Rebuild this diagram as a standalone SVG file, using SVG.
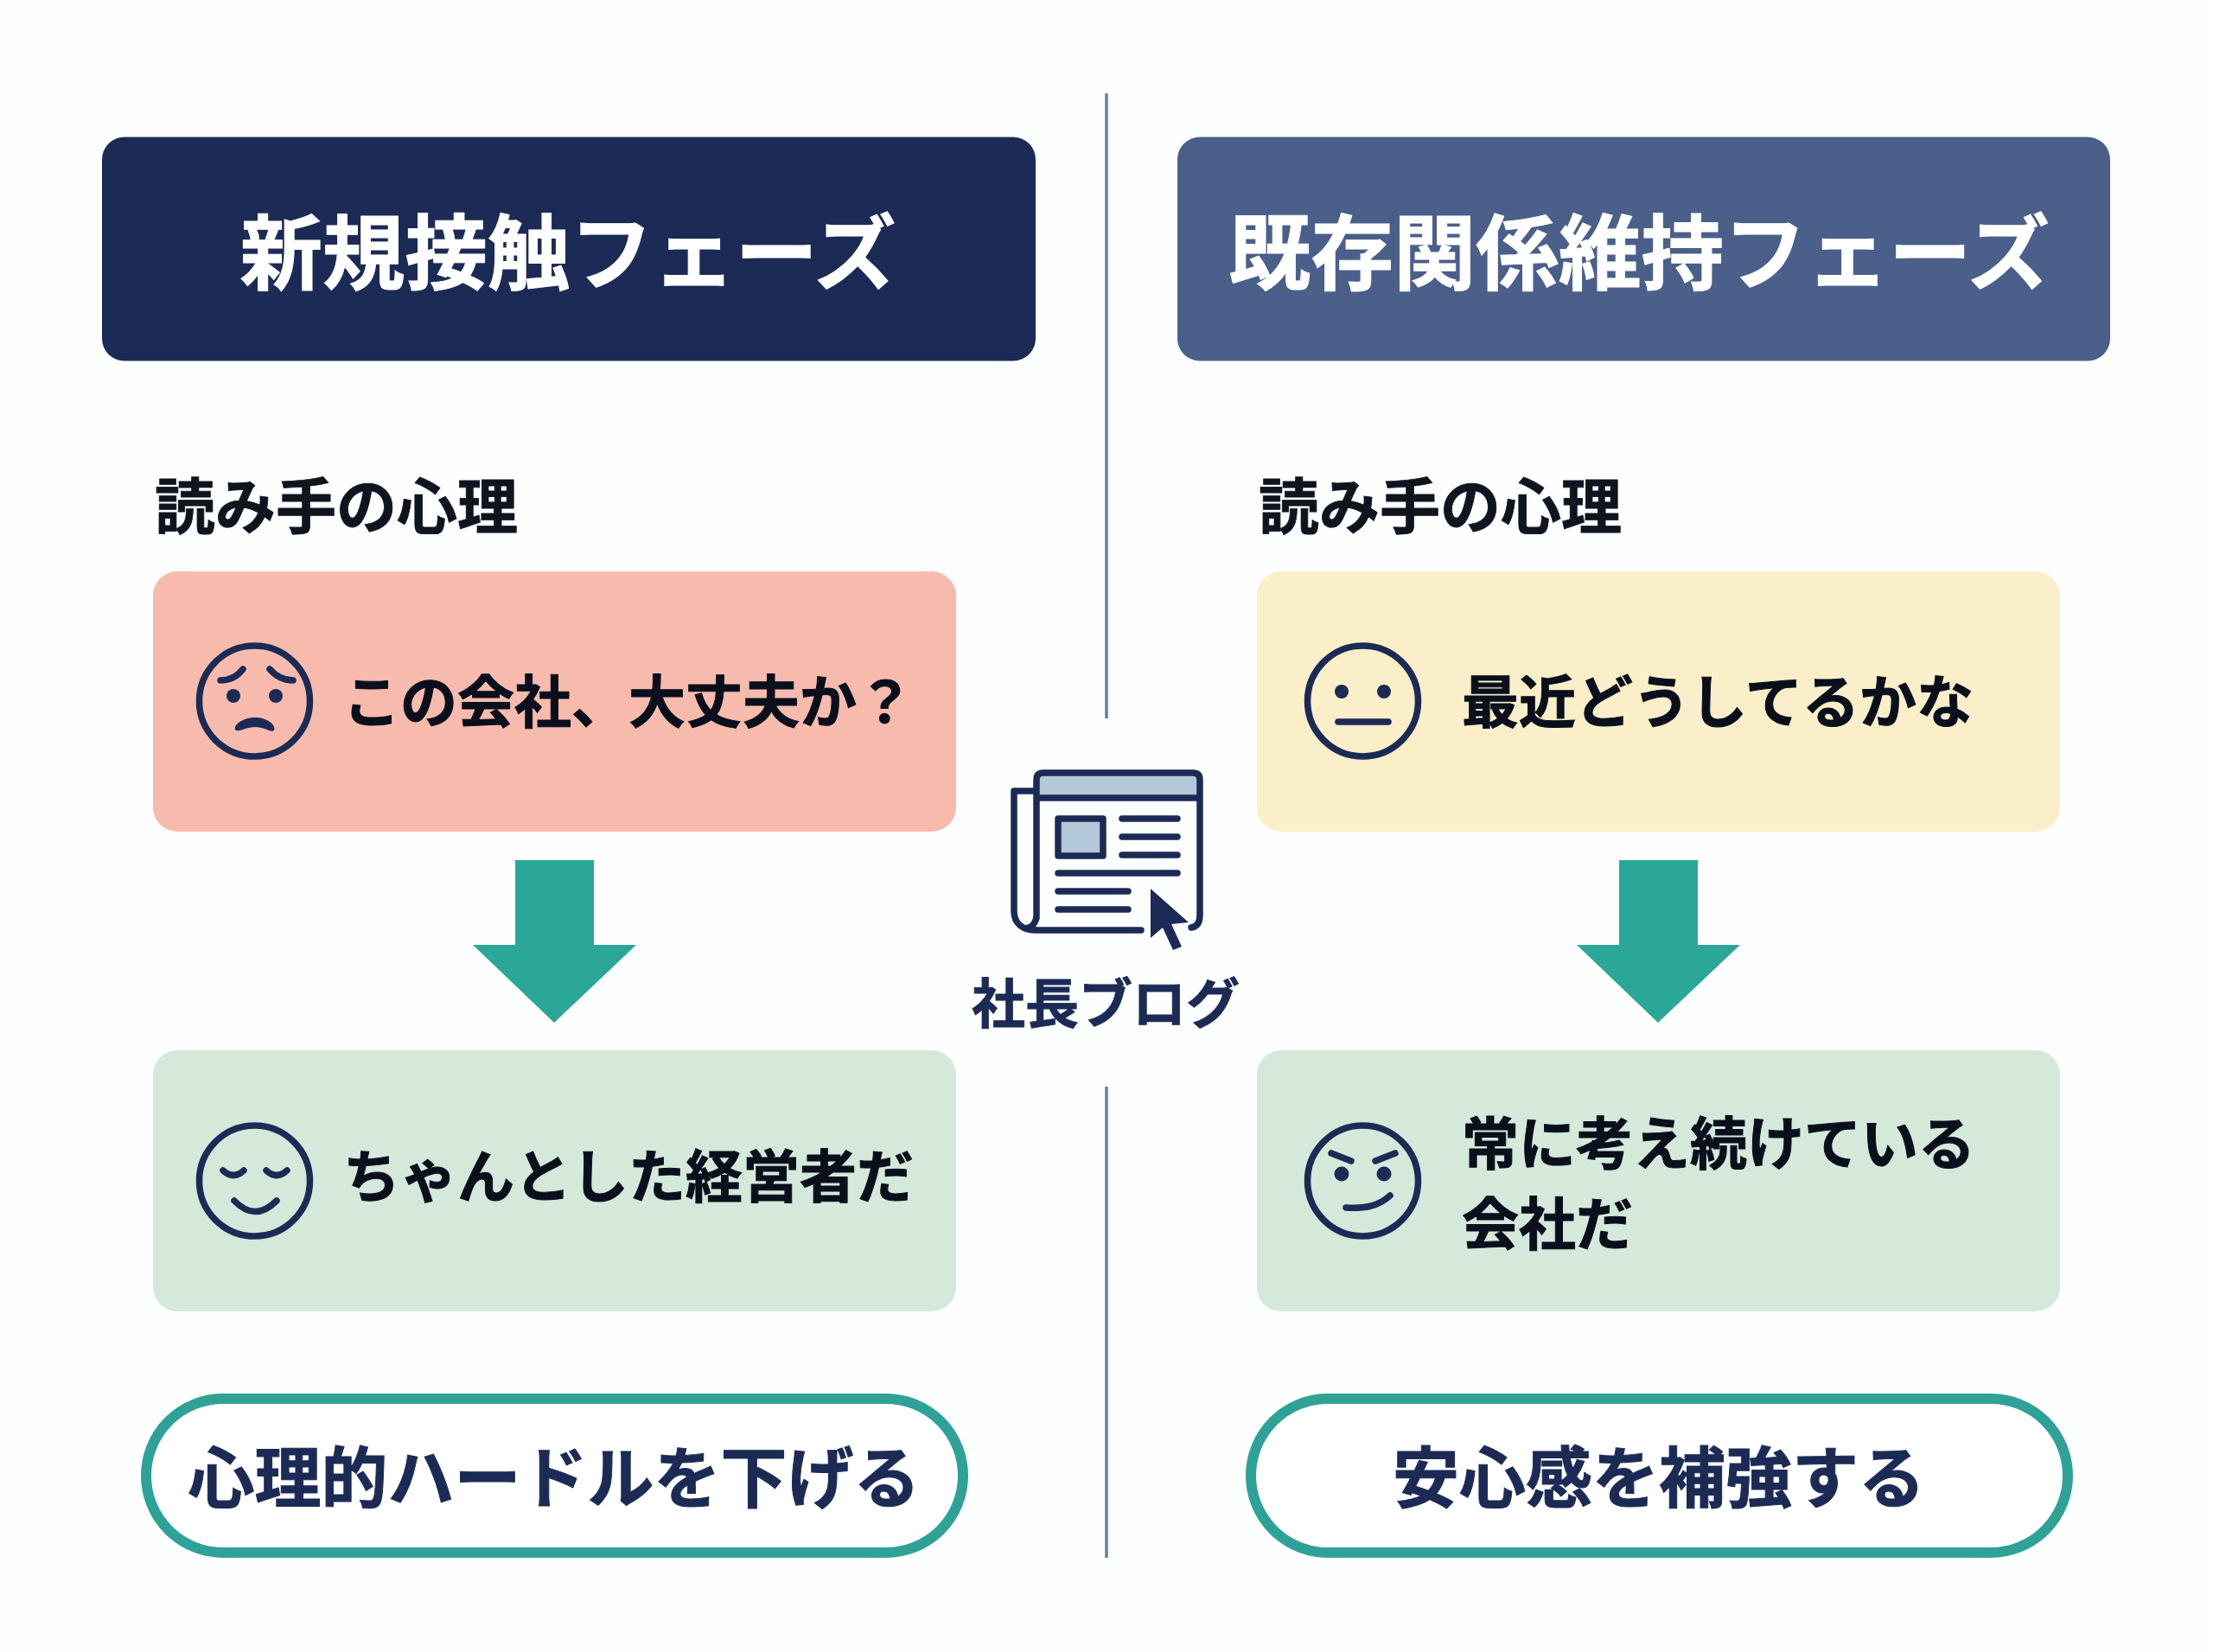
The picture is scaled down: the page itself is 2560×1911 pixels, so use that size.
<svg xmlns="http://www.w3.org/2000/svg" width="2560" height="1911" viewBox="0 0 2560 1911">
<style>
text{font-family:"Noto Sans CJK JP","Noto Sans",sans-serif;font-weight:700}
.hd{font-size:95.5px;fill:#fff;stroke:#fff;stroke-width:1;text-anchor:middle}
.lb{font-size:70px;fill:#10141f;stroke:#10141f;stroke-width:.8}
.tx{font-size:66px;fill:#0a0f1c;stroke:#0a0f1c;stroke-width:1}
.pl{font-size:77px;fill:#1c2b55;stroke:#1c2b55;stroke-width:1;text-anchor:middle}
.pink{fill:#f7bbae}.yel{fill:#fbefc9}.grn{fill:#d4e9da}
.ln{stroke:#6d7c9b;stroke-width:3.5;fill:none}
.s{fill:none;stroke:#1c2b55;stroke-width:7.5;stroke-linecap:round;stroke-linejoin:round}
.f{fill:#1c2b55}
.ar{fill:#2ba798}
.pill{fill:#fff;stroke:#2fa298;stroke-width:12}
.pb{fill:#b3c8d8}
</style>
<rect width="2560" height="1911" fill="#fdfefe"/>
<g id="connectors">
<path class="ar" d="M596 995H687V1093H736L641 1183L547 1093H596Z"/>
<path class="ar" d="M1873 995H1964V1093H2013L1918 1183L1824 1093H1873Z"/>
<path class="ln" d="M1280 108V831M1280 1257V1802"/>
</g>
<g id="header-left"><rect x="118" y="158.500" width="1080" height="259" rx="26" fill="#1c2b55"/><text class="hd" x="657" y="328">新規接触フェーズ</text></g>
<g id="header-right"><rect x="1362" y="158.500" width="1079" height="259" rx="26" fill="#4a5f8a"/><text class="hd" x="1896" y="328">既存関係維持フェーズ</text></g>
<g id="label-left"><text class="lb" x="179" y="612">読み手の心理</text></g>
<g id="label-right"><text class="lb" x="1456" y="612">読み手の心理</text></g>
<g id="box-worry"><rect class="pink" x="177" y="661" width="929" height="301" rx="28"/>
<circle class="s" cx="294.500" cy="811" r="64"/>
<path class="s" d="M255 787C266 787 275 782 281 774M339 787C328 787 319 782 312 774"/>
<circle class="f" cx="270" cy="805" r="8"/><circle class="f" cx="319" cy="805" r="8"/>
<path class="f" d="M272 844C270 838 282 830 295 830C308 830 320 838 317 845C314 848 306 841 295 841C284 841 276 848 272 844Z"/>
<text class="tx" x="397" y="836">この会社、大丈夫か？</text></g>
<g id="box-relief"><rect class="grn" x="177" y="1215" width="929" height="302" rx="28"/>
<circle class="s" cx="294.500" cy="1366" r="64"/>
<path class="s" d="M258 1354Q270 1365 282 1354M308 1354Q320 1365 332 1354M271 1389Q295 1414 320 1389"/>
<text class="tx" x="397" y="1385">ちゃんとした経営者だ</text></g>
<g id="box-neutral"><rect class="yel" x="1454" y="661" width="929" height="301" rx="28"/>
<circle class="s" cx="1576.500" cy="811" r="64"/>
<circle class="f" cx="1552" cy="800" r="8"/><circle class="f" cx="1601" cy="800" r="8"/>
<path class="s" d="M1548 835H1606"/>
<text class="tx" x="1691" y="836">最近どうしてるかな</text></g>
<g id="box-trust"><rect class="grn" x="1454" y="1215" width="929" height="302" rx="28"/>
<circle class="s" cx="1576.500" cy="1366" r="64"/>
<path class="s" d="M1540 1334L1563 1343M1614 1334L1591 1343M1557 1397C1578 1398 1594 1396 1608 1383"/>
<circle class="f" cx="1552" cy="1358" r="8.500"/><circle class="f" cx="1601" cy="1358" r="8.500"/>
<text class="tx" x="1691" y="1347">常に考え続けている</text>
<text class="tx" x="1691" y="1440">会社だ</text></g>
<g id="pill-left"><rect class="pill" x="169" y="1618" width="945" height="178" rx="89"/><text class="pl" x="641" y="1738">心理的ハードルを下げる</text></g>
<g id="pill-right"><rect class="pill" x="1447" y="1618" width="945" height="178" rx="89"/><text class="pl" x="1919" y="1738">安心感を補強する</text></g>
<g id="blog">
<rect class="pb" x="1200" y="896" width="186" height="27"/>
<path class="s" d="M1199 1062V902Q1199 894 1207 894H1380Q1388 894 1388 902V1058Q1388 1072 1378 1073M1199 923H1388M1199 915H1173V1054C1173 1068 1183 1076 1197 1076H1320M1199 1058C1199 1068 1193 1074 1186 1074"/>
<rect class="pb s" x="1224" y="947" width="52" height="43"/>
<path class="s" d="M1298 947H1362M1298 968H1362M1298 989H1362M1224 1010H1362M1224 1031H1305M1224 1052H1305"/>
<path class="f" d="M1331 1028L1375 1067L1355 1069L1367 1095L1357 1099L1345 1073L1331 1085Z"/>
<text x="1279" y="1184" font-size="62" fill="#1c2b55" stroke="#1c2b55" stroke-width=".8" text-anchor="middle">社長ブログ</text>
</g>
</svg>
